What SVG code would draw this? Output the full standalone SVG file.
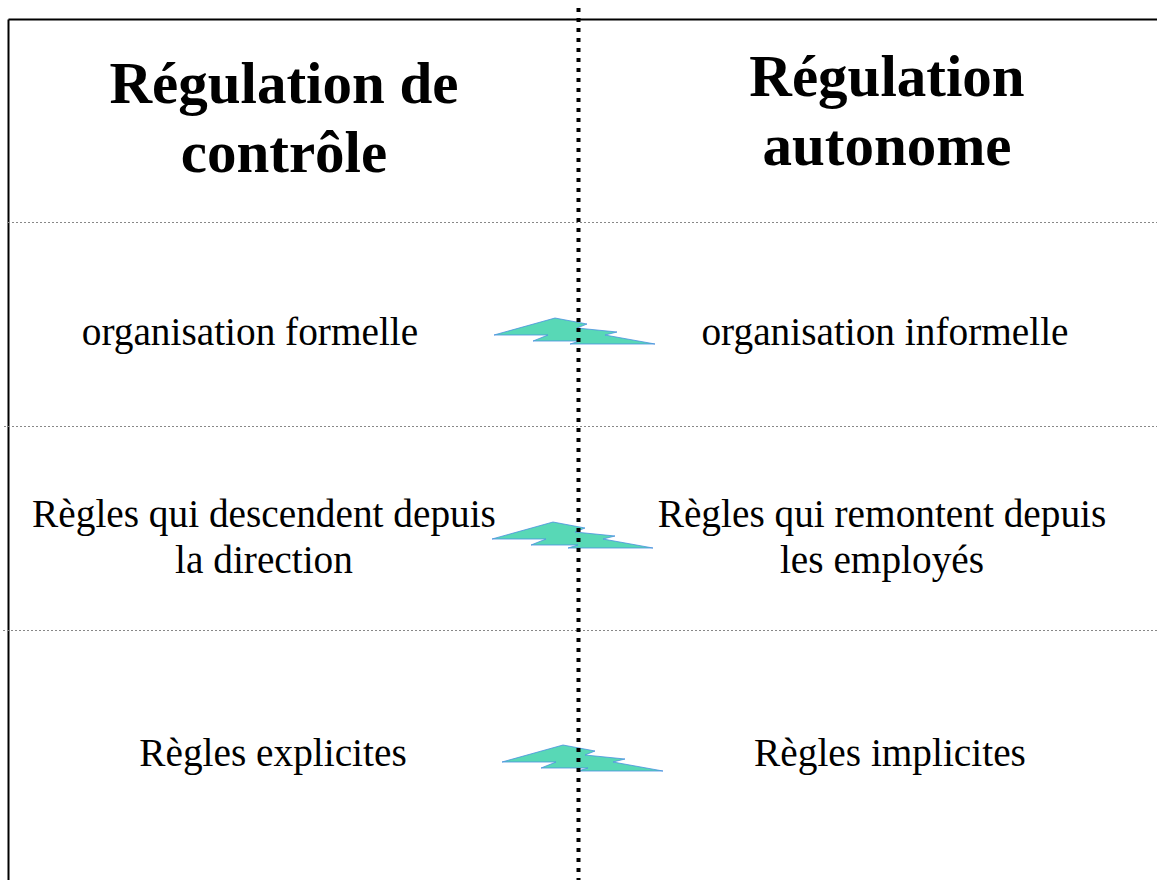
<svg xmlns="http://www.w3.org/2000/svg" width="1157" height="880" viewBox="0 0 1157 880">
<style>
.title{font-family:"Liberation Serif","Times New Roman",serif;font-weight:bold;font-size:59px;fill:#000;text-anchor:middle}
.body{font-family:"Liberation Serif","Times New Roman",serif;font-size:39.3px;fill:#000;text-anchor:middle}
.sep{stroke:#888;stroke-width:1;stroke-dasharray:2 2;fill:none}
.arrow{fill:#58d8b6;stroke:#4a90e0;stroke-width:0.8}
</style>
<defs>
<polygon id="zz" points="0,17 61,0 93,6 83,10 123,14 111,17 161,26 76,26 86,23 39,23 54,17"/>
</defs>
<rect width="1157" height="880" fill="#fff"/>
<g id="frame">
<line x1="8.5" y1="19.5" x2="1157" y2="19.5" stroke="#000" stroke-width="2"/>
<line x1="8.5" y1="19.5" x2="8.5" y2="880" stroke="#000" stroke-width="2"/>
</g>
<g id="separators">
<line class="sep" x1="8" y1="222.5" x2="1157" y2="222.5"/>
<line class="sep" x1="4" y1="426.5" x2="1157" y2="426.5"/>
<line class="sep" x1="3" y1="630.5" x2="1157" y2="630.5"/>
</g>
<g id="heading-left">
<text class="title" x="284" y="103">Régulation de</text>
<text class="title" x="284" y="172">contrôle</text>
</g>
<g id="heading-right">
<text class="title" x="887" y="96">Régulation</text>
<text class="title" x="887" y="165">autonome</text>
</g>
<g id="row1-left"><text class="body" x="250" y="345">organisation formelle</text></g>
<g id="row1-right"><text class="body" x="885" y="345">organisation informelle</text></g>
<g id="row2-left"><text class="body" x="264" y="527">Règles qui descendent depuis</text><text class="body" x="264" y="573">la direction</text></g>
<g id="row2-right"><text class="body" x="882" y="527">Règles qui remontent depuis</text><text class="body" x="882" y="573">les employés</text></g>
<g id="row3-left"><text class="body" x="273" y="766">Règles explicites</text></g>
<g id="row3-right"><text class="body" x="890" y="766">Règles implicites</text></g>
<g id="connectors">
<use href="#zz" class="arrow" x="494" y="318"/>
<use href="#zz" class="arrow" x="492" y="522"/>
<use href="#zz" class="arrow" x="502" y="745"/>
<line x1="578.5" y1="8" x2="578.5" y2="880" stroke="#000" stroke-width="4" stroke-dasharray="4 6"/>
</g>
</svg>
